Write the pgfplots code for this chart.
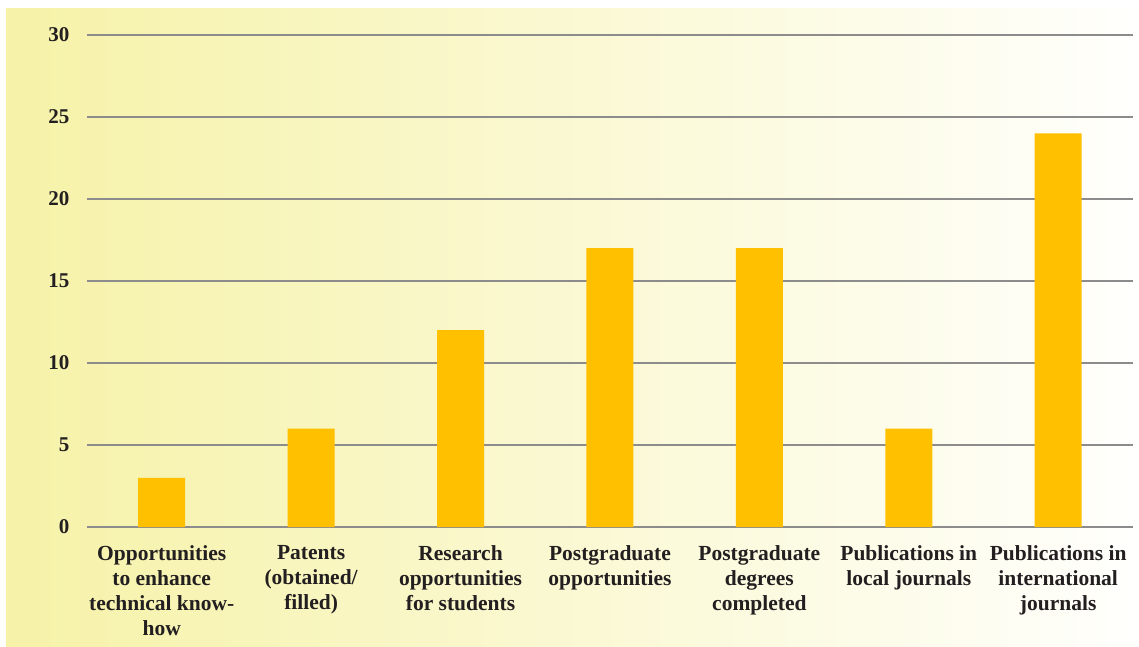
\documentclass[border=0pt]{standalone}
\usepackage{pgfplots}
\pgfplotsset{compat=1.18}
\usepackage{fontspec}
\setmainfont{Liberation Serif}
\definecolor{barc}{RGB}{255,192,0}
\definecolor{gridc}{RGB}{140,140,140}
\definecolor{txt}{RGB}{35,31,32}
\definecolor{bgl}{RGB}{246,242,168}
\definecolor{bgr}{RGB}{255,255,253}
\begin{document}
\begin{tikzpicture}
\useasboundingbox (-87pt,-119pt) rectangle (1052pt,527pt);
\shade[left color=bgl, right color=bgr] (-81pt,-119pt) rectangle (1052pt,518pt);
\begin{axis}[
  at={(0pt,0pt)}, anchor=south west,
  scale only axis, width=1046pt, height=492pt,
  ymin=0, ymax=30, ytick={0,5,...,30},
  xmin=-0.5, xmax=6.5, xtick=data,
  xticklabels={{Opportunities\\to enhance\\technical know-\\how}, {Patents\\(obtained/\\filled)}, {Research\\opportunities\\for students}, {Postgraduate\\opportunities}, {Postgraduate\\degrees\\completed}, {Publications in\\local journals}, {Publications in\\international\\journals}},
  axis line style={draw=none},
  major tick length=0pt,
  ymajorgrids, grid style={gridc, line width=1.6pt},
  /pgf/number format/assume math mode=true,
  yticklabel style={font=\fontsize{21}{24}\selectfont\bfseries, text=txt, xshift=-14pt},
  xticklabel style={font=\fontsize{21.5}{25}\selectfont\bfseries, text=txt, align=center, yshift=-15pt},
  ybar, bar width=47pt,
  clip=false,
]
\addplot[fill=barc, draw=none] coordinates {(0,3) (1,6) (2,12) (3,17) (4,17) (5,6) (6,24)};
\end{axis}
\end{tikzpicture}
\end{document}
